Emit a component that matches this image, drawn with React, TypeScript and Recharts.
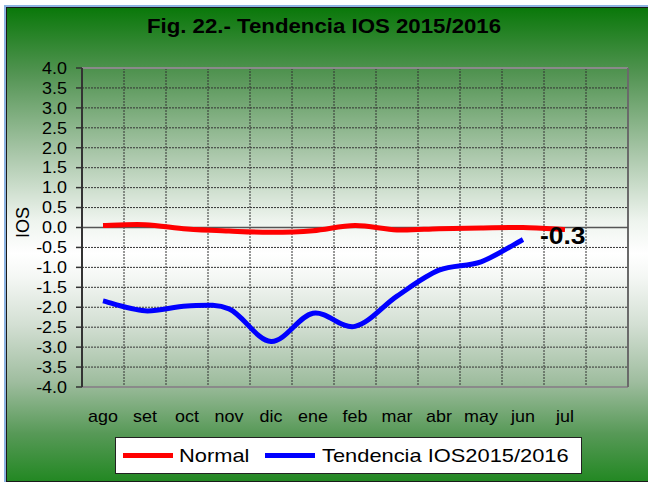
import React from 'react';
import { LineChart, Line, XAxis, YAxis, CartesianGrid, ReferenceLine, LabelList } from 'recharts';

// ---------- data ----------
const months = ['ago', 'set', 'oct', 'nov', 'dic', 'ene', 'feb', 'mar', 'abr', 'may', 'jun', 'jul'];
const normalValues = [0.05, 0.07, -0.04, -0.09, -0.12, -0.08, 0.05, -0.06, -0.03, -0.01, 0.0, -0.05];
const tendenciaValues: (number | null)[] = [-1.84, -2.09, -1.97, -2.04, -2.86, -2.15, -2.48, -1.72, -1.07, -0.86, -0.3, null];
const yTicks = [4, 3.5, 3, 2.5, 2, 1.5, 1, 0.5, 0, -0.5, -1, -1.5, -2, -2.5, -3, -3.5, -4];
const seriesKeys = ['normal', 'tendencia'];
const seriesNames = ['Normal', 'Tendencia IOS2015/2016'];
const seriesColors = ['#ff0000', '#0000ff'];
const chartTitle = 'Fig. 22.- Tendencia IOS 2015/2016';
const yAxisTitle = 'IOS';
const slotCount = 13; // 12 months + one empty slot at the right

const data = months.map((m, i) => ({
  pos: i + 0.5,
  month: m,
  normal: normalValues[i],
  tendencia: tendenciaValues[i],
}));
const monthTicks = months.map((_, i) => i + 0.5);
const gridTicks = Array.from({ length: slotCount + 1 }, (_, i) => i);

const FONT = "'Liberation Sans', Arial, sans-serif";
const SX = 1.12;

// Excel-like smoothed line (Catmull-Rom style bezier)
const excelSmooth: any = (context: any) => {
  let pts: number[][] = [];
  return {
    areaStart() {},
    areaEnd() {},
    lineStart() {
      pts = [];
    },
    point(x: number, y: number) {
      pts.push([+x, +y]);
    },
    lineEnd() {
      const n = pts.length;
      if (!n) return;
      context.moveTo(pts[0][0], pts[0][1]);
      if (n === 1) {
        context.lineTo(pts[0][0], pts[0][1]);
        return;
      }
      for (let i = 0; i < n - 1; i++) {
        const p0 = pts[Math.max(i - 1, 0)];
        const p1 = pts[i];
        const p2 = pts[i + 1];
        const p3 = pts[Math.min(i + 2, n - 1)];
        context.bezierCurveTo(
          p1[0] + (p2[0] - p0[0]) / 6,
          p1[1] + (p2[1] - p0[1]) / 6,
          p2[0] - (p3[0] - p1[0]) / 6,
          p2[1] - (p3[1] - p1[1]) / 6,
          p2[0],
          p2[1]
        );
      }
    },
  };
};

const YTick = (props: any) => {
  const { x, y, payload } = props;
  return (
    <g transform={`translate(${x},${y}) scale(${SX},1)`}>
      <text x={0} y={0} dy="0.36em" textAnchor="end" fontSize={16} fill="#000" fontFamily={FONT}>
        {Number(payload.value).toFixed(1)}
      </text>
    </g>
  );
};

const XTick = (props: any) => {
  const { x, y, payload } = props;
  const idx = Math.floor(payload.value);
  return (
    <g transform={`translate(${x},${y}) scale(${SX},1)`}>
      <text x={0} y={35} textAnchor="middle" fontSize={16} fill="#000" fontFamily={FONT}>
        {months[idx]}
      </text>
    </g>
  );
};

const YLabel = (props: any) => {
  const vb = props.viewBox || { x: 0, y: 0, width: 0, height: 0 };
  const cx = vb.x + vb.width / 2 - 18;
  const cy = vb.y + vb.height / 2 - 5;
  return (
    <text
      x={cx}
      y={cy}
      transform={`rotate(-90 ${cx} ${cy})`}
      textAnchor="middle"
      dominantBaseline="central"
      fontSize={18}
      fill="#000"
      fontFamily={FONT}
    >
      {yAxisTitle}
    </text>
  );
};

const lastTendIndex = tendenciaValues.reduce((acc: number, v, i) => (v !== null ? i : acc), -1);

const EndLabel = (props: any) => {
  const { x, y, index, value } = props;
  if (index !== lastTendIndex || value === null || value === undefined) return null;
  return (
    <g transform={`translate(${x + 17},${y - 3}) scale(1.15,1)`}>
      <text x={0} y={0} dominantBaseline="central" fontSize={23} fontWeight="bold" fill="#000" fontFamily={FONT}>
        {Number(value).toFixed(1)}
      </text>
    </g>
  );
};

const legendTextWidths = [71, 250];

export default function App() {
  return (
    <div
      style={{
        position: 'absolute',
        left: 0,
        top: 0,
        width: 648,
        height: 484,
        background: '#ffffff',
        overflow: 'hidden',
        fontFamily: FONT,
      }}
    >
      {/* outer frame */}
      <div
        style={{
          position: 'absolute',
          left: 4,
          top: 5,
          width: 644,
          height: 477,
          borderLeft: '2px solid #8db4e2',
          borderTop: '2px solid #8db4e2',
          boxSizing: 'border-box',
        }}
      >
        <div
          style={{
            position: 'absolute',
            left: 0,
            top: 0,
            right: 0,
            bottom: 0,
            borderLeft: '1px solid #1a1a1a',
            borderTop: '1px solid #1a1a1a',
            borderBottom: '1.5px solid #1a1a1a',
            background:
              'linear-gradient(to bottom, #0a780a 0%, #539453 14%, #aac7aa 31%, #eef4ee 45%, #ffffff 52%, #f4f7f4 57%, #d3dfd3 67%, #9fbd9f 79%, #579957 90%, #238823 100%)',
          }}
        />
      </div>

      {/* title */}
      <div
        style={{
          position: 'absolute',
          left: 0,
          top: 16.8,
          width: 648,
          textAlign: 'center',
          fontSize: 19.5,
          lineHeight: 1,
          fontWeight: 'bold',
          color: '#000',
          transform: 'scaleX(1.14)',
          transformOrigin: '324px 50%',
          whiteSpace: 'nowrap',
        }}
      >
        {chartTitle}
      </div>

      <div style={{ position: 'absolute', left: 0, top: 0 }}>
        <LineChart width={648} height={484} data={data} margin={{ top: 68, right: 20, bottom: 67, left: 0 }}>
          <XAxis xAxisId="grid" dataKey="pos" type="number" domain={[0, slotCount]} ticks={gridTicks} hide allowDataOverflow />
          <CartesianGrid xAxisId="grid" stroke="#333333" strokeDasharray="2 1" strokeWidth={1} />
          <XAxis
            dataKey="pos"
            type="number"
            domain={[0, slotCount]}
            ticks={monthTicks}
            interval={0}
            axisLine={false}
            tickLine={false}
            tickSize={0}
            tickMargin={0}
            height={30}
            tick={<XTick />}
            allowDataOverflow
          />
          <YAxis
            type="number"
            domain={[-4, 4]}
            ticks={yTicks}
            interval={0}
            width={82}
            tickSize={6}
            tickMargin={9}
            axisLine={{ stroke: '#333333', strokeWidth: 2 }}
            tickLine={{ stroke: '#333333', strokeWidth: 1.5 }}
            tick={<YTick />}
            allowDataOverflow
            label={YLabel}
          />
          <ReferenceLine y={4} stroke="#8a8a8a" strokeWidth={2} />
          <ReferenceLine y={-4} stroke="#8a8a8a" strokeWidth={2} />
          <ReferenceLine x={slotCount} stroke="#6a6a6a" strokeWidth={2} />
          <ReferenceLine y={0} stroke="#555555" strokeWidth={1.5} />
          <Line
            type={excelSmooth}
            dataKey={seriesKeys[0]}
            name={seriesNames[0]}
            stroke={seriesColors[0]}
            strokeWidth={5}
            dot={false}
            activeDot={false}
            isAnimationActive={false}
          />
          <Line
            type={excelSmooth}
            dataKey={seriesKeys[1]}
            name={seriesNames[1]}
            stroke={seriesColors[1]}
            strokeWidth={5}
            dot={false}
            activeDot={false}
            isAnimationActive={false}
          >
            <LabelList dataKey={seriesKeys[1]} content={EndLabel} />
          </Line>
        </LineChart>
      </div>

      {/* legend */}
      <div
        style={{
          position: 'absolute',
          left: 115,
          top: 437,
          width: 467,
          height: 37,
          boxSizing: 'border-box',
          border: '1px solid #222',
          background: '#fff',
          display: 'flex',
          alignItems: 'center',
        }}
      >
        {seriesNames.map((name, i) => (
          <React.Fragment key={name}>
            <span
              style={{
                display: 'inline-block',
                width: 50,
                height: 5,
                background: seriesColors[i],
                marginLeft: i === 0 ? 7 : 15,
              }}
            />
            <span
              style={{
                display: 'inline-block',
                width: legendTextWidths[i],
                marginLeft: i === 0 ? 6 : 7,
                fontSize: 19,
                lineHeight: 1,
                color: '#000',
                whiteSpace: 'nowrap',
              }}
            >
              <span style={{ display: 'inline-block', transform: 'scaleX(1.15)', transformOrigin: '0 50%' }}>{name}</span>
            </span>
          </React.Fragment>
        ))}
      </div>
    </div>
  );
}
